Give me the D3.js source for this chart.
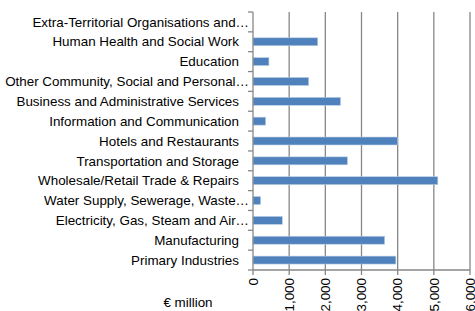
<!DOCTYPE html>
<html><head><meta charset="utf-8">
<script src="https://cdn.jsdelivr.net/npm/d3@7"></script>
<style>body{margin:0;background:#fff}svg{display:block}text{font-family:"Liberation Sans",Arial,sans-serif;fill:#000}</style>
</head><body><svg id="c" width="475" height="311"></svg>
<script>
const categories = ["Extra-Territorial Organisations and…","Human Health and Social Work","Education","Other Community, Social and Personal…","Business and Administrative Services","Information and Communication","Hotels and Restaurants","Transportation and Storage","Wholesale/Retail Trade & Repairs","Water Supply, Sewerage, Waste…","Electricity, Gas, Steam and Air…","Manufacturing","Primary Industries"];
const values = [0,1790,440,1540,2420,350,4000,2610,5110,210,810,3640,3950];
const xTicks = [0,1000,2000,3000,4000,5000,6000];
const axisTitle = "€ million";

const svg = d3.select("#c");
const m = {l:253, r:5, t:12, b:41};
const W = 475, H = 311;
const x = d3.scaleLinear().domain([0,6000]).range([m.l, 470]);
const y = d3.scaleBand().domain(categories).range([m.t, H-m.b]).paddingInner(0.6).paddingOuter(0.3);
const yb = d3.scaleBand().domain(categories).range([m.t, H-m.b]);
const grid = "#878787";
const fs = "13.4px";

// gridlines
svg.append("g").selectAll("line").data(xTicks.slice(1)).join("line")
  .attr("x1",d=>x(d)).attr("x2",d=>x(d)).attr("y1",m.t).attr("y2",H-m.b)
  .attr("stroke",grid).attr("stroke-width",1.3);

// bars
svg.append("g").selectAll("rect").data(values).join("rect")
  .attr("x",x(0)).attr("y",(d,i)=>y(categories[i]))
  .attr("width",d=>x(d)-x(0)).attr("height",y.bandwidth())
  .attr("fill","#4f81bd").attr("stroke","#b9cde5").attr("stroke-width",0.6);

// y axis line and ticks
svg.append("line").attr("x1",x(0)).attr("x2",x(0)).attr("y1",m.t).attr("y2",H-m.b).attr("stroke",grid).attr("stroke-width",1.3);
const bounds = categories.map(c=>yb(c)).concat([H-m.b]);
svg.append("g").selectAll("line").data(bounds).join("line")
  .attr("x1",x(0)-5).attr("x2",x(0)).attr("y1",d=>d).attr("y2",d=>d).attr("stroke",grid).attr("stroke-width",1.3);
// x axis line and ticks
svg.append("line").attr("x1",x(0)).attr("x2",x(6000)).attr("y1",H-m.b).attr("y2",H-m.b).attr("stroke",grid).attr("stroke-width",1.3);
svg.append("g").selectAll("line").data(xTicks).join("line")
  .attr("x1",d=>x(d)).attr("x2",d=>x(d)).attr("y1",H-m.b).attr("y2",H-m.b+5).attr("stroke",grid).attr("stroke-width",1.3);

// category labels
svg.append("g").selectAll("text").data(categories).join("text")
  .attr("x",d=>d.endsWith("…")?249:239)
  .attr("y",d=>yb(d)+yb.bandwidth()/2)
  .attr("dy","0.35em").attr("text-anchor","end").style("font-size",fs)
  .text(d=>d);

// x tick labels rotated
svg.append("g").selectAll("text").data(xTicks).join("text")
  .attr("transform",d=>`translate(${x(d)},${H-m.b+8}) rotate(-90)`)
  .attr("dy","0.35em").attr("text-anchor","end").style("font-size",fs)
  .text(d=>d3.format(",")(d));

svg.append("text").attr("x",188).attr("y",307).attr("text-anchor","middle").style("font-size",fs).text(axisTitle);
</script></body></html>
